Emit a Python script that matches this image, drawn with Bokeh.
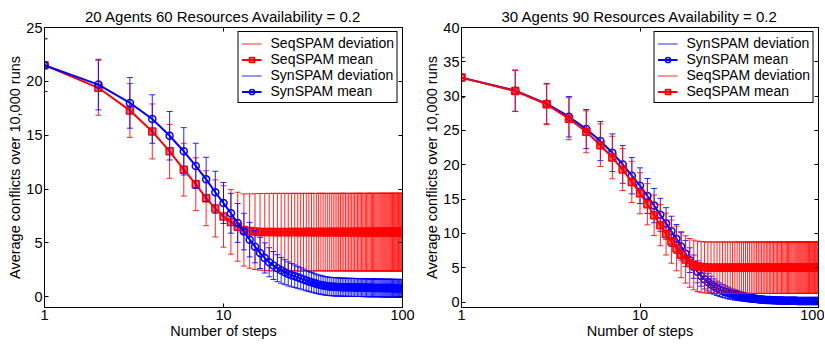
import numpy as np
from bokeh.plotting import figure
from bokeh.layouts import row
from bokeh.models import (ColumnDataSource, Legend, LegendItem, FixedTicker,
                          LinearAxis, LogAxis, Range1d, CustomJSTickFormatter)
from bokeh.embed import file_html
from bokeh.resources import INLINE

FONT = "Arial"
FS = "14.5px"

STEPS = list(range(1, 101))
X_TICKS = [1, 10, 100]
X_TICK_LABELS = ["1", "10", "100"]

# ---------- Panel 1: 20 agents, 60 resources ----------
L_SEQ_MEAN = [
    21.5, 19.4, 17.3, 15.35, 13.5, 11.8, 10.45, 9.15, 8.2, 7.45,
    6.95, 6.5, 6.2, 6.1, 6.05, 6.02, 6.01, 6.0, 6.0, 5.99,
    6.0, 6.0, 5.99, 6.0, 6.01, 6.0, 5.99, 6.0, 6.0, 6.0,
    6.0, 5.99, 6.0, 6.0, 6.01, 6.0, 6.0, 5.99, 6.0, 6.0,
    6.0, 6.0, 5.99, 6.0, 6.0, 6.01, 6.0, 6.0, 5.99, 6.0,
    6.0, 6.0, 6.0, 5.99, 6.0, 6.0, 6.01, 6.0, 6.0, 6.0,
    5.99, 6.0, 6.0, 6.0, 6.0, 6.01, 6.0, 5.99, 6.0, 6.0,
    6.0, 6.0, 6.0, 5.99, 6.0, 6.0, 6.0, 6.01, 6.0, 6.0,
    6.0, 5.99, 6.0, 6.0, 6.0, 6.0, 6.01, 6.0, 6.0, 5.99,
    6.0, 6.0, 6.0, 6.0, 6.01, 6.0, 6.0, 5.99, 6.0, 6.0,
]
L_SEQ_STD = [
    2.45, 2.55, 2.5, 2.55, 2.5, 2.45, 2.45, 2.55, 2.65, 2.85,
    3.0, 3.2, 3.35, 3.45, 3.52, 3.56, 3.58, 3.6, 3.6, 3.61,
    3.6, 3.6, 3.61, 3.6, 3.6, 3.6, 3.61, 3.6, 3.6, 3.6,
    3.61, 3.6, 3.6, 3.6, 3.6, 3.61, 3.6, 3.6, 3.6, 3.6,
    3.6, 3.61, 3.6, 3.6, 3.6, 3.6, 3.61, 3.6, 3.6, 3.6,
    3.6, 3.6, 3.61, 3.6, 3.6, 3.6, 3.6, 3.61, 3.6, 3.6,
    3.6, 3.6, 3.6, 3.61, 3.6, 3.6, 3.6, 3.6, 3.61, 3.6,
    3.6, 3.6, 3.6, 3.6, 3.61, 3.6, 3.6, 3.6, 3.6, 3.61,
    3.6, 3.6, 3.6, 3.6, 3.6, 3.61, 3.6, 3.6, 3.6, 3.6,
    3.61, 3.6, 3.6, 3.6, 3.6, 3.6, 3.61, 3.6, 3.6, 3.6,
]
L_SYN_MEAN = [
    21.5, 19.7, 18.0, 16.5, 14.95, 13.5, 12.15, 10.9, 9.7, 8.7,
    7.75, 6.85, 6.05, 5.3, 4.65, 4.07, 3.6, 3.2, 2.9, 2.65,
    2.45, 2.28, 2.12, 2.0, 1.9, 1.8, 1.7, 1.6, 1.5, 1.42,
    1.34, 1.27, 1.2, 1.14, 1.09, 1.05, 1.01, 0.98, 0.96, 0.94,
    0.93, 0.92, 0.91, 0.9, 0.9, 0.89, 0.89, 0.88, 0.88, 0.87,
    0.87, 0.87, 0.86, 0.86, 0.86, 0.85, 0.85, 0.85, 0.85, 0.84,
    0.84, 0.84, 0.84, 0.83, 0.83, 0.83, 0.83, 0.83, 0.82, 0.82,
    0.82, 0.82, 0.82, 0.82, 0.81, 0.81, 0.81, 0.81, 0.81, 0.81,
    0.8, 0.8, 0.8, 0.8, 0.8, 0.8, 0.8, 0.8, 0.79, 0.79,
    0.79, 0.79, 0.79, 0.79, 0.79, 0.79, 0.78, 0.78, 0.78, 0.78,
]
L_SYN_STD = [
    2.45, 2.35, 2.35, 2.25, 2.25, 2.2, 2.1, 2.05, 1.95, 1.9,
    1.85, 1.8, 1.7, 1.6, 1.5, 1.45, 1.4, 1.35, 1.3, 1.25,
    1.2, 1.16, 1.12, 1.08, 1.05, 1.02, 0.99, 0.97, 0.95, 0.93,
    0.91, 0.9, 0.89, 0.88, 0.87, 0.86, 0.86, 0.85, 0.85, 0.85,
    0.85, 0.85, 0.85, 0.84, 0.84, 0.84, 0.84, 0.84, 0.84, 0.84,
    0.84, 0.84, 0.84, 0.84, 0.83, 0.83, 0.83, 0.83, 0.83, 0.83,
    0.83, 0.83, 0.83, 0.83, 0.83, 0.83, 0.83, 0.83, 0.83, 0.82,
    0.82, 0.82, 0.82, 0.82, 0.82, 0.82, 0.82, 0.82, 0.82, 0.82,
    0.82, 0.82, 0.82, 0.82, 0.82, 0.82, 0.82, 0.82, 0.82, 0.82,
    0.82, 0.82, 0.82, 0.82, 0.82, 0.82, 0.82, 0.82, 0.82, 0.82,
]

# ---------- Panel 2: 30 agents, 90 resources ----------
R_SYN_MEAN = [
    32.7, 30.8, 28.9, 27.0, 25.2, 23.45, 21.75, 20.05, 18.4, 16.95,
    15.45, 14.05, 12.7, 11.45, 10.3, 9.2, 8.1, 7.05, 6.1, 5.15,
    4.4, 3.8, 3.3, 2.9, 2.55, 2.25, 2.0, 1.8, 1.62, 1.47,
    1.34, 1.22, 1.12, 1.03, 0.95, 0.88, 0.81, 0.75, 0.69, 0.64,
    0.59, 0.55, 0.51, 0.47, 0.44, 0.41, 0.38, 0.36, 0.34, 0.32,
    0.31, 0.3, 0.29, 0.28, 0.27, 0.26, 0.25, 0.24, 0.23, 0.22,
    0.22, 0.21, 0.21, 0.2, 0.2, 0.19, 0.19, 0.19, 0.18, 0.18,
    0.18, 0.17, 0.17, 0.17, 0.17, 0.16, 0.16, 0.16, 0.16, 0.16,
    0.15, 0.15, 0.15, 0.15, 0.15, 0.15, 0.14, 0.14, 0.14, 0.14,
    0.14, 0.14, 0.14, 0.14, 0.13, 0.13, 0.13, 0.13, 0.13, 0.13,
]
R_SYN_STD = [
    2.95, 3.0, 2.95, 2.95, 2.85, 2.85, 2.75, 2.75, 2.65, 2.6,
    2.55, 2.5, 2.4, 2.3, 2.2, 2.1, 2.0, 1.9, 1.8, 1.7,
    1.6, 1.5, 1.4, 1.3, 1.2, 1.12, 1.05, 0.99, 0.94, 0.89,
    0.85, 0.81, 0.77, 0.74, 0.71, 0.68, 0.65, 0.63, 0.61, 0.59,
    0.57, 0.55, 0.53, 0.52, 0.5, 0.49, 0.48, 0.47, 0.46, 0.45,
    0.44, 0.44, 0.43, 0.43, 0.42, 0.42, 0.41, 0.41, 0.4, 0.4,
    0.39, 0.39, 0.38, 0.38, 0.38, 0.37, 0.37, 0.36, 0.36, 0.36,
    0.35, 0.35, 0.35, 0.34, 0.34, 0.34, 0.33, 0.33, 0.33, 0.33,
    0.32, 0.32, 0.32, 0.32, 0.31, 0.31, 0.31, 0.31, 0.31, 0.3,
    0.3, 0.3, 0.3, 0.3, 0.3, 0.3, 0.3, 0.3, 0.3, 0.3,
]
R_SEQ_MEAN = [
    32.7, 30.75, 28.8, 26.7, 24.8, 22.85, 21.05, 19.3, 17.5, 15.85,
    14.25, 12.65, 11.2, 9.9, 8.8, 7.8, 6.9, 6.2, 5.7, 5.4,
    5.2, 5.1, 5.05, 5.02, 5.0, 5.0, 4.99, 5.0, 5.0, 5.0,
    5.0, 4.99, 5.0, 5.0, 5.01, 5.0, 5.0, 4.99, 5.0, 5.0,
    5.0, 5.0, 4.99, 5.0, 5.0, 5.01, 5.0, 5.0, 4.99, 5.0,
    5.0, 5.0, 5.0, 4.99, 5.0, 5.0, 5.01, 5.0, 5.0, 5.0,
    4.99, 5.0, 5.0, 5.0, 5.0, 5.01, 5.0, 4.99, 5.0, 5.0,
    5.0, 5.0, 5.0, 4.99, 5.0, 5.0, 5.0, 5.01, 5.0, 5.0,
    5.0, 4.99, 5.0, 5.0, 5.0, 5.0, 5.01, 5.0, 5.0, 4.99,
    5.0, 5.0, 5.0, 5.0, 5.01, 5.0, 5.0, 4.99, 5.0, 5.0,
]
R_SEQ_STD = [
    2.9, 3.0, 2.95, 3.05, 3.05, 3.1, 3.1, 3.05, 3.0, 3.0,
    3.0, 2.95, 3.0, 3.05, 3.15, 3.25, 3.35, 3.45, 3.55, 3.62,
    3.67, 3.7, 3.72, 3.74, 3.75, 3.75, 3.76, 3.75, 3.75, 3.75,
    3.76, 3.75, 3.75, 3.75, 3.75, 3.76, 3.75, 3.75, 3.75, 3.75,
    3.75, 3.76, 3.75, 3.75, 3.75, 3.75, 3.76, 3.75, 3.75, 3.75,
    3.75, 3.75, 3.76, 3.75, 3.75, 3.75, 3.75, 3.76, 3.75, 3.75,
    3.75, 3.75, 3.75, 3.76, 3.75, 3.75, 3.75, 3.75, 3.76, 3.75,
    3.75, 3.75, 3.75, 3.75, 3.76, 3.75, 3.75, 3.75, 3.75, 3.76,
    3.75, 3.75, 3.75, 3.75, 3.75, 3.76, 3.75, 3.75, 3.75, 3.75,
    3.76, 3.75, 3.75, 3.75, 3.75, 3.75, 3.76, 3.75, 3.75, 3.75,
]

L_Y_TICKS = [0, 5, 10, 15, 20, 25]
R_Y_TICKS = [0, 5, 10, 15, 20, 25, 30, 35, 40]

RED = "#ff0000"
BLUE = "#0000ff"


def make_panel(title, width, border_left, border_right, y_start, y_end,
               y_ticks, series):
    p = figure(width=width, height=343, x_axis_type="log",
               x_range=Range1d(1, 100), y_range=Range1d(y_start, y_end),
               output_backend="svg", toolbar_location=None,
               min_border_left=border_left, min_border_right=border_right,
               min_border_top=27, min_border_bottom=36, title=title)
    p.title.text_font = FONT
    p.title.text_font_size = "15px"
    p.title.text_font_style = "normal"
    p.title.align = "center"
    p.title.text_color = "black"
    p.title.standoff = 5
    p.title.offset = 0
    p.xgrid.visible = False
    p.ygrid.visible = False
    p.outline_line_color = "black"
    p.outline_line_alpha = 1

    p.xaxis.ticker = FixedTicker(ticks=X_TICKS, minor_ticks=[])
    p.xaxis.formatter = CustomJSTickFormatter(
        args=dict(xt=X_TICKS, xl=X_TICK_LABELS),
        code="const i = xt.indexOf(tick); return i >= 0 ? xl[i] : String(tick);")
    p.yaxis.ticker = FixedTicker(ticks=y_ticks, minor_ticks=[])
    for ax in (p.xaxis[0], p.yaxis[0]):
        ax.major_tick_in = 4
        ax.major_tick_out = 0
        ax.minor_tick_line_color = None
        ax.axis_line_color = "black"
        ax.major_tick_line_color = "black"
        ax.major_label_text_font = FONT
        ax.major_label_text_font_size = FS
        ax.major_label_text_color = "black"
        ax.axis_label_text_font = FONT
        ax.axis_label_text_font_size = FS
        ax.axis_label_text_font_style = "normal"
        ax.axis_label_text_color = "black"
        ax.major_label_standoff = 2
        ax.axis_label_standoff = 0
    p.xaxis.axis_label = "Number of steps"
    p.yaxis.axis_label = "Average conflicts over 10,000 runs"

    top = LogAxis(ticker=FixedTicker(ticks=X_TICKS, minor_ticks=[]),
                  major_label_text_font_size="1px", major_label_text_alpha=0,
                  major_tick_in=4, major_tick_out=0,
                  minor_tick_line_color=None, major_label_standoff=0)
    right = LinearAxis(ticker=FixedTicker(ticks=y_ticks, minor_ticks=[]),
                       major_label_text_font_size="1px", major_label_text_alpha=0,
                       major_tick_in=4, major_tick_out=0,
                       minor_tick_line_color=None, major_label_standoff=0)
    p.add_layout(top, "above")
    p.add_layout(right, "right")

    items = []
    for name, mean, std, color, marker in series:
        m = np.array(mean)
        s = np.array(std)
        src = ColumnDataSource(dict(x=STEPS, m=m, lo=m - s, hi=m + s))
        dev = p.segment(x0="x", y0="lo", x1="x", y1="hi", source=src,
                        line_color=color, line_width=1, line_alpha=0.85)
        p.scatter("x", "hi", source=src, marker="dash", size=6,
                  line_color=color, line_width=1, line_alpha=0.85)
        p.scatter("x", "lo", source=src, marker="dash", size=6,
                  line_color=color, line_width=1, line_alpha=0.85)
        ln = p.line("x", "m", source=src, line_color=color, line_width=2)
        mk = p.scatter("x", "m", source=src, marker=marker, size=7,
                       line_color=color, line_width=1.5,
                       fill_color=color if marker == "square" else None,
                       fill_alpha=0.6)
        items.append(LegendItem(label=f"{name} deviation", renderers=[dev]))
        items.append(LegendItem(label=f"{name} mean", renderers=[ln, mk]))

    legend = Legend(items=items, location="top_right",
                    border_line_color="black", border_line_width=1,
                    border_line_alpha=1, background_fill_alpha=1,
                    label_text_font=FONT, label_text_font_size="14px",
                    label_text_color="black",
                    glyph_width=20, glyph_height=13, label_height=13,
                    spacing=0, padding=3, margin=4, label_standoff=9)
    p.add_layout(legend)
    return p


p1 = make_panel("20 Agents 60 Resources Availability = 0.2", 418, 44, 16,
                -1, 25, L_Y_TICKS,
                [("SeqSPAM", L_SEQ_MEAN, L_SEQ_STD, RED, "square"),
                 ("SynSPAM", L_SYN_MEAN, L_SYN_STD, BLUE, "circle")])
p2 = make_panel("30 Agents 90 Resources Availability = 0.2", 406, 43, 6,
                -0.8, 40, R_Y_TICKS,
                [("SynSPAM", R_SYN_MEAN, R_SYN_STD, BLUE, "circle"),
                 ("SeqSPAM", R_SEQ_MEAN, R_SEQ_STD, RED, "square")])

layout = row(p1, p2)
open("out.html", "w").write(file_html(layout, INLINE))
